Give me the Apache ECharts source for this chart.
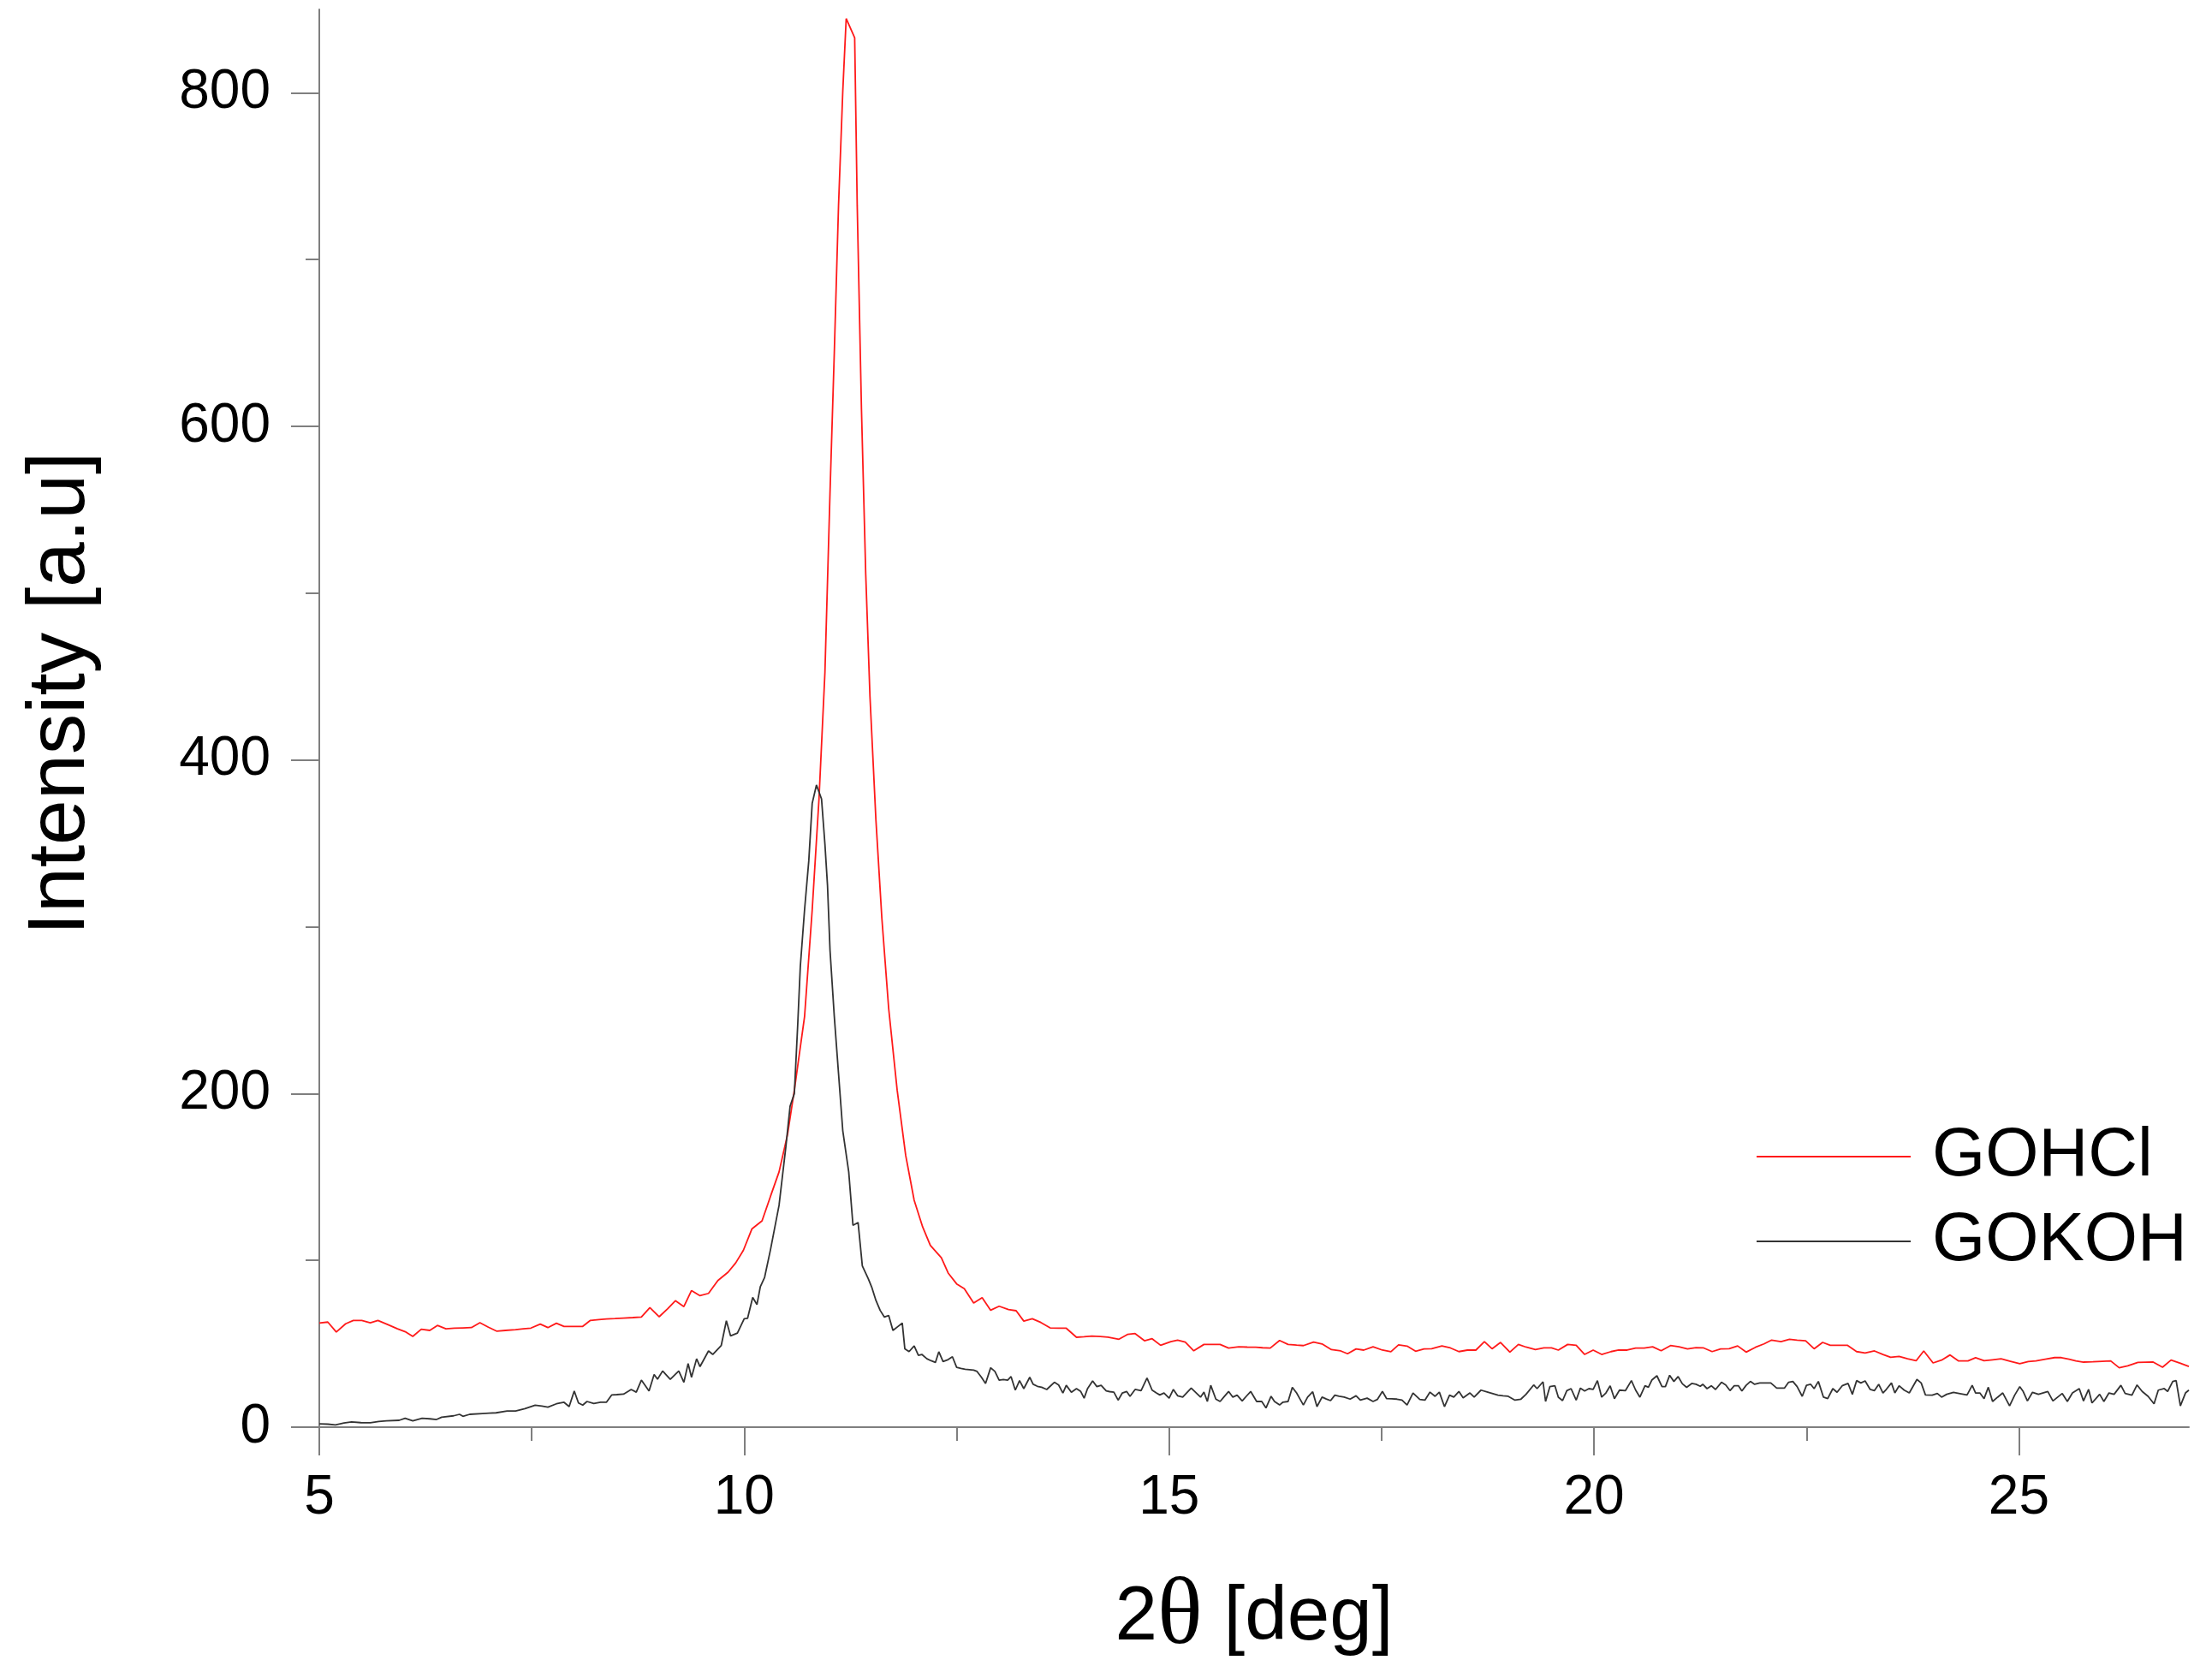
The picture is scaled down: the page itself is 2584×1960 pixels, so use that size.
<!DOCTYPE html>
<html>
<head>
<meta charset="utf-8">
<title>XRD GOHCl / GOKOH</title>
<script src="https://cdn.jsdelivr.net/npm/echarts@6.0.0/dist/echarts.min.js"></script>
<style>
  html, body { margin: 0; padding: 0; background: #fff; }
  #main { width: 2584px; height: 1960px; }
</style>
</head>
<body>
<div id="main"></div>
<script>
// 2theta / intensity
var gohclTheta = [
  5.00, 5.10, 5.20, 5.31, 5.40, 5.50, 5.60, 5.69, 5.81, 5.92, 6.02, 6.10, 6.20, 6.30, 6.39, 6.49, 6.59, 6.69, 6.79, 6.89,
  6.99, 7.09, 7.19, 7.31, 7.40, 7.49, 7.60, 7.69, 7.79, 7.88, 7.99, 8.10, 8.19, 8.29, 8.38, 8.48, 8.58, 8.69, 8.79, 8.89,
  9.00, 9.10, 9.19, 9.29, 9.38, 9.48, 9.58, 9.69, 9.81, 9.90, 9.99, 10.09, 10.21, 10.31, 10.41, 10.51, 10.59, 10.71, 10.80, 10.88,
  10.95, 11.01, 11.06, 11.11, 11.16, 11.20, 11.30, 11.33, 11.38, 11.43, 11.48, 11.55, 11.62, 11.70, 11.80, 11.90, 12.00, 12.10, 12.19, 12.32,
  12.40, 12.50, 12.59, 12.70, 12.80, 12.90, 13.00, 13.11, 13.20, 13.29, 13.39, 13.49, 13.60, 13.70, 13.79, 13.91, 14.00, 14.09, 14.19, 14.28,
  14.41, 14.51, 14.60, 14.71, 14.80, 14.90, 15.02, 15.10, 15.19, 15.29, 15.41, 15.50, 15.60, 15.70, 15.82, 15.92, 16.02, 16.10, 16.19, 16.30,
  16.40, 16.50, 16.58, 16.70, 16.80, 16.91, 17.02, 17.10, 17.20, 17.29, 17.40, 17.51, 17.61, 17.70, 17.80, 17.90, 18.00, 18.09, 18.21, 18.31,
  18.41, 18.51, 18.61, 18.71, 18.80, 18.90, 19.01, 19.11, 19.20, 19.31, 19.41, 19.50, 19.58, 19.69, 19.79, 19.89, 19.99, 20.09, 20.20, 20.29,
  20.39, 20.49, 20.59, 20.69, 20.79, 20.90, 21.00, 21.10, 21.20, 21.29, 21.39, 21.49, 21.59, 21.69, 21.79, 21.90, 22.00, 22.09, 22.20, 22.30,
  22.39, 22.49, 22.59, 22.69, 22.78, 22.88, 22.98, 23.09, 23.19, 23.30, 23.40, 23.49, 23.59, 23.69, 23.79, 23.88, 23.99, 24.09, 24.19, 24.29,
  24.40, 24.49, 24.59, 24.69, 24.79, 24.90, 25.01, 25.11, 25.20, 25.31, 25.42, 25.50, 25.59, 25.67, 25.76, 25.87, 25.98, 26.08, 26.18, 26.28,
  26.40, 26.49, 26.58, 26.69, 26.79, 26.90, 27.00
];
var gohclIntensity = [
  62.4, 63, 57, 62, 64, 64, 62.6, 64, 61.4, 59, 57, 54.4, 58.7, 58, 61, 59, 59.3, 59.5, 59.7, 62.6,
  59.9, 57.5, 58, 58.5, 59, 59.4, 61.8, 59.7, 62.3, 60.4, 60.4, 60.4, 64, 64.5, 64.9, 65.1, 65.4, 65.7, 66, 71.7,
  66.2, 71, 75.8, 72.3, 81.9, 78.8, 80.2, 87.9, 92.9, 98.5, 106, 118.8, 123.7, 138.5, 153, 175.5, 202, 246, 310, 376.6,
  452.6, 560.8, 644, 732.5, 801, 844.5, 833, 732, 610, 511.5, 438, 364, 305, 251, 202, 163, 136, 120, 109, 101.6,
  92.4, 85.9, 83, 74.4, 77.6, 70.1, 72.5, 70.5, 69.8, 63.6, 65, 62.8, 59.5, 59.4, 59.3, 53.9, 54.2, 54.6, 54.3, 54,
  52.7, 55.6, 56.1, 51.8, 53, 49.1, 51.3, 52.2, 51, 45.8, 49.6, 49.6, 49.6, 47.4, 48.2, 48, 47.9, 47.6, 47.4, 52,
  49.6, 49.2, 48.9, 51, 49.9, 46.5, 45.7, 44, 46.9, 46.2, 48.2, 46.2, 45.2, 49.3, 48.6, 45.5, 46.9, 47, 48.7, 47.5,
  45.3, 46.2, 46.2, 51.3, 47, 50.8, 45, 49.6, 48, 46.5, 47.5, 47.5, 46.2, 49.6, 49.1, 43.6, 46.2, 43.6, 45.3, 46.2,
  46.2, 47.4, 47.4, 48.2, 45.8, 48.9, 48.2, 46.9, 47.7, 47.5, 45.3, 46.9, 47, 48.7, 45, 47.9, 49.9, 52.2, 51.3, 52.7,
  52.2, 51.8, 47, 50.8, 49.1, 49.1, 49.1, 45.3, 44.5, 45.7, 43.6, 41.9, 42.4, 41, 39.8, 45.7, 38.5, 40.2, 43.3, 39.7,
  39.7, 41.6, 39.8, 40.4, 41, 39.5, 38, 39.3, 39.7, 40.7, 41.7, 41.7, 40.7, 39.7, 39, 39.2, 39.5, 39.7, 35.6, 36.8,
  38.8, 38.9, 39, 35.9, 40.2, 38.3, 36.4
];

var gokohTheta = [
  5.00, 5.10, 5.19, 5.29, 5.38, 5.49, 5.60, 5.70, 5.79, 5.94, 6.01, 6.10, 6.21, 6.30, 6.38, 6.44, 6.58, 6.65, 6.69, 6.77,
  6.92, 7.00, 7.08, 7.21, 7.31, 7.42, 7.54, 7.62, 7.69, 7.79, 7.88, 7.94, 8.00, 8.05, 8.10, 8.15, 8.23, 8.31, 8.38, 8.44,
  8.50, 8.58, 8.67, 8.73, 8.79, 8.88, 8.94, 8.98, 9.04, 9.13, 9.23, 9.29, 9.34, 9.38, 9.44, 9.48, 9.58, 9.63, 9.73, 9.79,
  9.84, 9.92, 10.00, 10.04, 10.10, 10.15, 10.19, 10.24, 10.31, 10.41, 10.49, 10.54, 10.59, 10.63, 10.66, 10.71, 10.76, 10.80, 10.85, 10.91,
  10.95, 10.98, 11.01, 11.06, 11.11, 11.16, 11.23, 11.28, 11.34, 11.39, 11.46, 11.50, 11.55, 11.60, 11.65, 11.70, 11.75, 11.80, 11.86, 11.89,
  11.94, 12.00, 12.05, 12.09, 12.15, 12.20, 12.25, 12.29, 12.34, 12.40, 12.45, 12.50, 12.55, 12.60, 12.65, 12.70, 12.74, 12.79, 12.84, 12.90,
  12.95, 13.00, 13.05, 13.10, 13.14, 13.19, 13.24, 13.29, 13.36, 13.40, 13.45, 13.50, 13.56, 13.60, 13.65, 13.70, 13.75, 13.79, 13.85, 13.91,
  13.96, 14.00, 14.04, 14.10, 14.15, 14.20, 14.26, 14.30, 14.35, 14.40, 14.45, 14.50, 14.54, 14.60, 14.67, 14.74, 14.80, 14.85, 14.89, 14.94,
  15.00, 15.05, 15.10, 15.16, 15.21, 15.26, 15.32, 15.37, 15.41, 15.45, 15.49, 15.55, 15.60, 15.65, 15.70, 15.75, 15.80, 15.86, 15.91, 15.96,
  16.03, 16.09, 16.14, 16.20, 16.24, 16.30, 16.34, 16.40, 16.45, 16.50, 16.54, 16.58, 16.63, 16.69, 16.74, 16.80, 16.85, 16.90, 16.95, 17.00,
  17.06, 17.13, 17.20, 17.25, 17.33, 17.40, 17.45, 17.51, 17.56, 17.62, 17.68, 17.74, 17.80, 17.87, 17.95, 18.01, 18.07, 18.13, 18.18, 18.24,
  18.30, 18.35, 18.41, 18.46, 18.54, 18.59, 18.67, 18.75, 18.81, 18.87, 18.93, 18.99, 19.07, 19.14, 19.20, 19.29, 19.33, 19.40, 19.43, 19.48,
  19.54, 19.58, 19.63, 19.68, 19.73, 19.79, 19.84, 19.89, 19.94, 19.99, 20.04, 20.09, 20.14, 20.19, 20.24, 20.30, 20.37, 20.44, 20.49, 20.54,
  20.60, 20.64, 20.68, 20.74, 20.80, 20.84, 20.89, 20.94, 20.99, 21.04, 21.09, 21.15, 21.20, 21.25, 21.28, 21.33, 21.38, 21.43, 21.50, 21.55,
  21.60, 21.65, 21.70, 21.74, 21.79, 21.84, 21.89, 21.95, 22.02, 22.08, 22.15, 22.24, 22.29, 22.34, 22.39, 22.45, 22.50, 22.55, 22.59, 22.64,
  22.70, 22.75, 22.81, 22.86, 22.92, 22.99, 23.04, 23.09, 23.14, 23.19, 23.25, 23.30, 23.35, 23.40, 23.44, 23.50, 23.54, 23.59, 23.65, 23.71,
  23.80, 23.85, 23.90, 23.98, 24.04, 24.09, 24.15, 24.23, 24.32, 24.39, 24.45, 24.49, 24.54, 24.59, 24.64, 24.69, 24.75, 24.81, 24.89, 24.95,
  25.01, 25.05, 25.10, 25.16, 25.23, 25.34, 25.40, 25.51, 25.57, 25.63, 25.71, 25.76, 25.82, 25.86, 25.95, 26.00, 26.06, 26.12, 26.20, 26.25,
  26.33, 26.39, 26.45, 26.52, 26.59, 26.64, 26.71, 26.75, 26.81, 26.85, 26.90, 26.96, 27.00
];
var gokohIntensity = [
  2.0, 1.8, 1.4, 2.5, 3.1, 2.7, 2.6, 3.4, 3.8, 4.1, 5.3, 3.8, 5.3, 5, 4.6, 6, 6.8, 7.7, 6.5, 7.7,
  8.2, 8.4, 8.6, 9.7, 9.7, 11.1, 13.2, 12.6, 12, 14, 14.9, 12.3, 21.7, 14.5, 13.2, 15.4, 14.2, 15, 15, 19.3,
  19.5, 19.8, 22.6, 21, 28.2, 21.7, 31.6, 28.7, 33.7, 28.7, 33.7, 26.9, 38.1, 29.9, 41, 36.3, 45.7, 43.6, 49, 63.8,
  54.7, 56.4, 65, 65.3, 77.8, 73.5, 84.3, 89.8, 106.6, 133, 168, 192.4, 200, 241.6, 276, 310, 339.6, 374, 385, 376.6,
  349.4, 325, 285.8, 246.3, 212, 177.7, 153, 121, 122.7, 96.7, 89, 84, 76, 70, 66, 67, 58, 60, 62.4, 47,
  45.3, 48.7, 43.1, 43.6, 41, 39.8, 38.8, 45.2, 39.3, 40.5, 42.2, 35.9, 35.2, 34.7, 34.5, 34.2, 33.4, 30, 26.2, 35.6,
  33.4, 28.2, 28.5, 28.2, 30.3, 22.2, 27.9, 23.1, 29.9, 25.7, 24.5, 23.9, 22.6, 24.5, 26.9, 25.3, 20.5, 25.1, 20.9, 23.1,
  21.4, 17.4, 23.1, 27.7, 24.3, 25.1, 21.7, 21.3, 21, 16.2, 20.5, 21.4, 18.5, 22.6, 21.9, 29.4, 22.2, 20.5, 19.3, 20.5,
  17.4, 22.6, 18.8, 18, 20.7, 23.4, 20.5, 18, 21, 15.4, 25.1, 16.8, 15.4, 18.4, 21.4, 18, 19.2, 15.7, 18.6, 21.4,
  15.4, 15.4, 11.5, 18.5, 15.4, 13.3, 15, 15.4, 23.9, 20.5, 16.9, 13.3, 18, 21.2, 12.3, 18, 16.9, 15.9, 19.2, 18.6,
  18, 16.8, 18.8, 16.2, 17.4, 15.4, 16.6, 21.4, 17.1, 17, 16.8, 16.2, 13.3, 20.5, 16.6, 16.2, 21, 18.5, 21, 12.3,
  19.2, 18, 21.4, 17.6, 20.5, 18, 22.2, 21, 20.1, 19.2, 18.8, 18.5, 16.2, 16.8, 19.7, 25.3, 23.1, 27.2, 15.4, 24.3,
  24.8, 18, 15.9, 21.9, 23.1, 16.2, 23.4, 21.7, 23.1, 22.7, 27.9, 18, 20.5, 24.8, 17.1, 22.2, 21.9, 27.9, 22.2, 18,
  24.8, 23.9, 28.2, 30.8, 24.3, 24.3, 31.1, 27.4, 30.3, 26, 23.9, 26.2, 25.7, 24.5, 25.7, 23.1, 24.8, 22.6, 26.9, 25.3,
  21.9, 24.8, 24.8, 21.7, 25.1, 27.4, 25.7, 26.5, 26.5, 26.5, 23.4, 23.4, 26.9, 27.4, 24.3, 18.5, 25.1, 25.7, 23.1, 27.4,
  18, 17.1, 23.1, 20.9, 24.8, 26.2, 19.7, 27.9, 26.5, 27.7, 22.6, 21.9, 25.7, 20.5, 22.7, 26.5, 20.5, 24.8, 22.2, 20.5,
  28.6, 26.5, 19.3, 19.2, 20.2, 18, 19.7, 20.9, 20, 19.3, 25.1, 20.5, 20.5, 17.1, 23.9, 15.4, 18, 20.5, 12.8, 19.2,
  24.3, 21.4, 15.7, 20.9, 19.7, 21.4, 15.7, 20.2, 15.4, 20.5, 23.1, 15.7, 22.6, 14.5, 19.7, 15.4, 20.5, 19.7, 25.1, 20.2,
  19.2, 25.3, 21.4, 18.5, 14, 22.2, 23.1, 21.4, 27.4, 27.9, 12.8, 20.5, 22.2
];

var seriesNames = ['GOHCl', 'GOKOH'];
var xMajorTicks = [5, 10, 15, 20, 25];
var xMinorTicks = [7.5, 12.5, 17.5, 22.5];
var yMajorTicks = [0, 200, 400, 600, 800];
var yMinorTicks = [100, 300, 500, 700];

function pairs(xs, ys) {
  return xs.map(function (x, i) { return [x, ys[i]]; });
}

var axisGray = '#7f7f7f';
var sans = 'Liberation Sans, Arial, sans-serif';

var myChart = echarts.init(document.getElementById('main'));

var option = {
  animation: false,
  backgroundColor: '#ffffff',
  grid: {
    left: 373,
    top: 11,
    right: 27,
    bottom: 293,
    containLabel: false,
    outerBoundsMode: 'none'
  },
  legend: {
    orient: 'vertical',
    left: 2047,
    top: 1306,
    icon: 'rect',
    itemWidth: 180,
    itemHeight: 2,
    itemGap: 19,
    data: seriesNames,
    textStyle: {
      fontFamily: sans,
      fontSize: 80,
      lineHeight: 80,
      color: '#000',
      padding: [0, 0, 0, 20]
    }
  },
  graphic: [{
    type: 'text',
    x: 72,
    y: 810,
    rotation: Math.PI / 2,
    style: {
      text: 'Intensity [a.u]',
      font: '95px "Liberation Sans", Arial, sans-serif',
      fill: '#000',
      align: 'center',
      verticalAlign: 'middle'
    }
  }],
  xAxis: [{
    type: 'value',
    min: 5,
    max: 27,
    interval: 5,
    position: 'bottom',
    name: '{a|2}{b|θ}{a| [deg]}',
    nameLocation: 'middle',
    nameGap: 168,
    nameTextStyle: {
      rich: {
        a: { fontFamily: sans, fontSize: 89, lineHeight: 110, color: '#000' },
        b: { fontFamily: 'Liberation Serif, Times New Roman, serif', fontSize: 110, lineHeight: 110, color: '#000' }
      }
    },
    axisLine: { show: true, onZero: false, lineStyle: { color: axisGray, width: 2 } },
    axisTick: { show: true, inside: false, length: 33, customValues: xMajorTicks, lineStyle: { color: axisGray, width: 2 } },
    axisLabel: { customValues: xMajorTicks, margin: 51, fontFamily: sans, fontSize: 64, color: '#000' },
    splitLine: { show: false }
  }, {
    type: 'value',
    min: 5,
    max: 27,
    position: 'bottom',
    axisLine: { show: false },
    axisTick: { show: true, inside: false, length: 16, customValues: xMinorTicks, lineStyle: { color: axisGray, width: 2 } },
    axisLabel: { show: false },
    splitLine: { show: false }
  }],
  yAxis: [{
    type: 'value',
    min: 0,
    max: 850,
    interval: 200,
    position: 'left',
    axisLine: { show: true, onZero: false, lineStyle: { color: axisGray, width: 2 } },
    axisTick: { show: true, inside: false, length: 33, customValues: yMajorTicks, lineStyle: { color: axisGray, width: 2 } },
    axisLabel: { customValues: yMajorTicks, margin: 57, fontFamily: sans, fontSize: 64, color: '#000' },
    splitLine: { show: false }
  }, {
    type: 'value',
    min: 0,
    max: 850,
    position: 'left',
    axisLine: { show: false },
    axisTick: { show: true, inside: false, length: 16, customValues: yMinorTicks, lineStyle: { color: axisGray, width: 2 } },
    axisLabel: { show: false },
    splitLine: { show: false }
  }],
  series: [{
    name: seriesNames[0],
    type: 'line',
    xAxisIndex: 0,
    yAxisIndex: 0,
    symbol: 'none',
    color: '#ff1a1a',
    lineStyle: { color: '#ff1a1a', width: 1.8 },
    data: pairs(gohclTheta, gohclIntensity)
  }, {
    name: seriesNames[1],
    type: 'line',
    xAxisIndex: 0,
    yAxisIndex: 0,
    symbol: 'none',
    color: '#333333',
    lineStyle: { color: '#333333', width: 1.8 },
    data: pairs(gokohTheta, gokohIntensity)
  }]
};

myChart.setOption(option);
</script>
</body>
</html>
